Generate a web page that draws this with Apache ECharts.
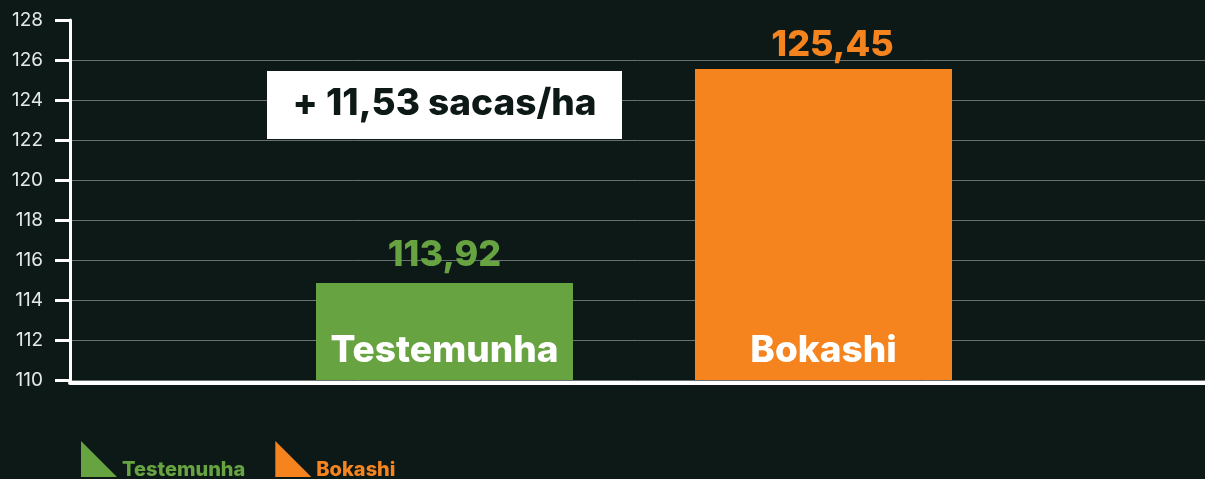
<!DOCTYPE html>
<html>
<head>
<meta charset="utf-8">
<script src="https://cdn.jsdelivr.net/npm/echarts@6/dist/echarts.min.js"></script>
<style>
html,body{margin:0;padding:0;background:#0d1917;}
#c{width:1205px;height:479px;}
</style>
</head>
<body>
<div id="c"></div>
<script>
// ---- data ----
const categories = ['Testemunha', 'Bokashi'];
const barValues = [114.85, 125.55];           // bar heights as drawn in the reference
const valueLabels = ['113,92', '125,45'];      // printed value labels
const barColors = ['#67a441', '#f5841f'];
const yTicks = { min: 110, max: 128, interval: 2 };
const annotationText = '+ 11,53 sacas/ha';

const FONT = 'Inter, "Open Sans", sans-serif';

const chart = echarts.init(document.getElementById('c'), null, { renderer: 'canvas' });

const series = [];
categories.forEach((name, i) => {
  const data = categories.map((c, j) => (j === i ? barValues[j] : '-'));
  series.push({
    name: name,
    type: 'bar',
    xAxisIndex: 1, yAxisIndex: 1,
    barWidth: 257, barGap: '-100%',
    data: data,
    itemStyle: { color: barColors[i] },
    label: {
      show: true, position: 'insideBottom', distance: 11,
      formatter: '{a}', color: '#ffffff',
      fontSize: 37, fontWeight: 800, fontFamily: FONT
    },
    emphasis: { disabled: true }
  });
  series.push({
    name: 'valor-' + name,
    type: 'bar',
    xAxisIndex: 1, yAxisIndex: 1,
    barWidth: 257, barGap: '-100%',
    data: data,
    itemStyle: { color: 'rgba(0,0,0,0)' },
    label: {
      show: true, position: 'top', distance: i === 0 ? 10 : 6,
      offset: i === 0 ? [0, 0] : [9, 0],
      formatter: () => valueLabels[i], color: barColors[i],
      fontSize: 36, fontWeight: 800, fontFamily: FONT
    },
    emphasis: { disabled: true },
    silent: true
  });
});

const option = {
  backgroundColor: '#0d1917',
  animation: false,
  grid: [
    { left: 70, right: 0, top: 20, bottom: 99 },
    { left: 255, width: 758, top: 20, bottom: 99 }
  ],
  xAxis: [
    { gridIndex: 0, type: 'category', data: [''], offset: 3,
      axisLine: { show: true, lineStyle: { color: '#ffffff', width: 4 } },
      axisTick: { show: false }, axisLabel: { show: false }, splitLine: { show: false } },
    { gridIndex: 1, type: 'category', data: categories, show: false }
  ],
  yAxis: [
    { gridIndex: 0, type: 'value', min: yTicks.min, max: yTicks.max, interval: yTicks.interval,
      axisLine: { show: true, lineStyle: { color: '#ffffff', width: 3 } },
      axisTick: { show: true, length: 15, lineStyle: { color: '#ffffff', width: 3 } },
      axisLabel: { color: '#e6e8e7', fontSize: 19, fontFamily: FONT, margin: 27 },
      splitLine: { show: true, showMaxLine: false, lineStyle: { color: '#68716d', width: 1 } } },
    { gridIndex: 1, type: 'value', min: yTicks.min, max: yTicks.max, interval: yTicks.interval, show: false,
      splitLine: { show: false } }
  ],
  legend: {
    left: 81, top: 437, padding: 0, itemWidth: 36, itemHeight: 36, itemGap: 30,
    icon: 'path://M0,0 L0,10 L10,10 Z',
    selectedMode: false,
    formatter: '\n{name}',
    data: categories.map((c, i) => ({
      name: c,
      textStyle: { color: barColors[i] }
    })),
    textStyle: { fontSize: 20, fontWeight: 800, fontFamily: FONT, lineHeight: 22 }
  },
  graphic: [
    { type: 'rect', left: 267, top: 71, shape: { width: 355, height: 68 },
      style: { fill: '#ffffff' }, z: 10 },
    { type: 'text', x: 444.5, y: 104, z: 11,
      style: { text: annotationText, fill: '#0d1917', font: '800 37px ' + FONT,
               align: 'center', verticalAlign: 'middle' } }
  ],
  series: series
};
chart.setOption(option);
</script>
</body>
</html>
